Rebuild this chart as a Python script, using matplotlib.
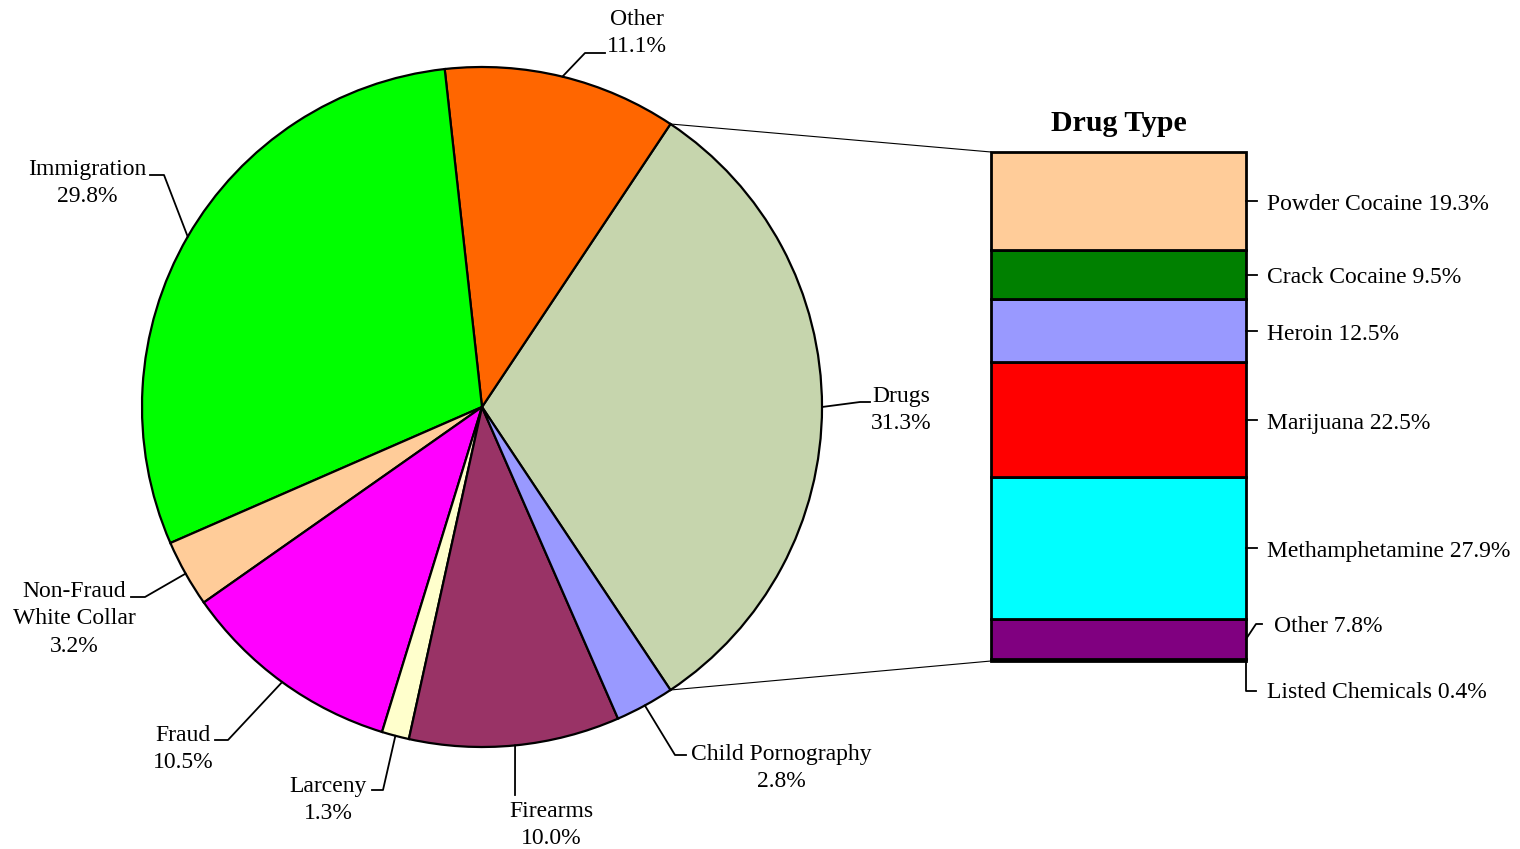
import numpy as np
import matplotlib.pyplot as plt

# данные
offense = ["Drugs", "Other", "Immigration", "Non-Fraud\nWhite Collar", "Fraud",
           "Larceny", "Firearms", "Child Pornography"]
offense_pct = [31.3, 11.1, 29.8, 3.2, 10.5, 1.3, 10.0, 2.8]
offense_colors = ["#C6D5AD", "#FF6600", "#00FF00", "#FFCC99", "#FF00FF",
                  "#FFFFCC", "#993366", "#9999FF"]

drug = ["Powder Cocaine", "Crack Cocaine", "Heroin", "Marijuana",
        "Methamphetamine", "Other", "Listed Chemicals"]
drug_pct = [19.3, 9.5, 12.5, 22.5, 27.9, 7.8, 0.4]
drug_colors = ["#FFCC99", "#008000", "#9999FF", "#FF0000", "#00FFFF",
               "#800080", "#000000"]

W, H = 1520, 849
FONT = "Liberation Serif"
FS = 17

fig = plt.figure(figsize=(W / 100, H / 100), dpi=100)
ax = fig.add_axes([0, 0, 1, 1])


def Y(y):
    # пиксели сверху -> координаты снизу
    return H - y


# круговая диаграмма
cx, cy, R = 482, Y(407), 340
start = -offense_pct[0] / 100 * 360 / 2
ax.pie(offense_pct, colors=offense_colors, startangle=start, counterclock=True,
       center=(cx, cy), radius=R, frame=True,
       wedgeprops=dict(edgecolor="black", linewidth=1.6))
ax.set_xlim(0, W)
ax.set_ylim(0, H)
ax.set_aspect("equal")
ax.axis("off")

# подписи сегментов: (излом выноски, конец горизонтали, центр текста)
bounds = np.concatenate([[0], np.cumsum(offense_pct)]) / 100 * 360 + start
mids = (bounds[:-1] + bounds[1:]) / 2
label_pos = {
    "Drugs": ((860, 402), (870, 402), (901, 410)),
    "Other": ((585, 53), (605, 53), (637, 33)),
    "Immigration": ((164, 175), (150, 175), (87, 183)),
    "Non-Fraud\nWhite Collar": ((145, 597), (131, 597), (74, 619)),
    "Fraud": ((228, 740), (215, 740), (183, 749)),
    "Larceny": ((383, 790), (372, 790), (328, 800)),
    "Firearms": ((515, 795), (515, 795), (551, 825)),
    "Child Pornography": ((675, 755), (686, 755), (781, 768)),
}
for name, pct, m in zip(offense, offense_pct, mids):
    (x1, y1), (x2, y2), (tx, ty) = label_pos[name]
    ex = cx + R * np.cos(np.radians(m))
    ey = cy + R * np.sin(np.radians(m))
    ax.plot([ex, x1, x2], [ey, Y(y1), Y(y2)], color="black", lw=1.3)
    ax.text(tx, Y(ty), f"{name}\n{pct:.1f}%", ha="center", va="center",
            family=FONT, fontsize=FS, linespacing=1.4)

# столбец
bx0, bx1 = 991, 1246
btop, bbot = 152, 661
scale = (bbot - btop) / sum(drug_pct)
bottom = Y(bbot)
centers = []
for pct, col in zip(drug_pct[::-1], drug_colors[::-1]):
    ax.bar((bx0 + bx1) / 2, pct * scale, bottom=bottom, width=bx1 - bx0,
           color=col, edgecolor="black", linewidth=2)
    centers.append(bottom + pct * scale / 2)
    bottom += pct * scale
centers = centers[::-1]

ax.text((bx0 + bx1) / 2, Y(123), "Drug Type", ha="center", va="center",
        family=FONT, fontsize=21.5, fontweight="bold")

label_y = [202, 275, 332, 421, 549, 624, 691]
for name, pct, c, ly in zip(drug, drug_pct, centers, label_y):
    if name == "Listed Chemicals":
        ax.plot([bx1, bx1, bx1 + 10], [c, Y(ly), Y(ly)], color="black", lw=1.3)
        tx = bx1 + 21
    elif name == "Other":
        ax.plot([bx1, bx1 + 10, bx1 + 16], [c, Y(ly), Y(ly)], color="black", lw=1.3)
        tx = bx1 + 28
    else:
        ax.plot([bx1, bx1 + 11], [c, c], color="black", lw=1.3)
        tx = bx1 + 21
    ax.text(tx, Y(ly + 2), f"{name} {pct:.1f}%", ha="left", va="center",
            family=FONT, fontsize=FS)

# линии связи
a1, a2 = np.radians(bounds[1]), np.radians(bounds[0])
ax.plot([cx + R * np.cos(a1), bx0], [cy + R * np.sin(a1), Y(btop)],
        color="black", lw=0.8)
ax.plot([cx + R * np.cos(a2), bx0], [cy + R * np.sin(a2), Y(bbot)],
        color="black", lw=0.8)

fig.savefig("out.png", dpi=100)
